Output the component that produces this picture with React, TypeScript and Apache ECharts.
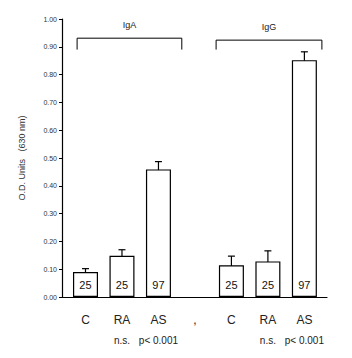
import React, { useEffect, useRef } from "react";
import * as echarts from "echarts";

const categories = ["C", "RA", "AS", ",", "C", "RA", "AS"];
const subLabels = ["", "n.s.", "p< 0.001", "", "", "n.s.", "p< 0.001"];
const barSlots = [0, 1, 2, 4, 5, 6];
const barValues = [0.09, 0.148, 0.459, 0.114, 0.128, 0.852];
const barErrors = [0.012, 0.022, 0.028, 0.033, 0.038, 0.03];
const barCounts = ["25", "25", "97", "25", "25", "97"];
const groupNames = ["IgA", "IgG"];
const groupStart = [-0.23, 3.58];
const groupEnd = [2.64, 6.48];
const groupY = [0.931, 0.924];
const groupDrop = [0.89, 0.89];

export default function App() {
  const ref = useRef<HTMLDivElement>(null);
  useEffect(() => {
    if (!ref.current) return;
    const chart = echarts.init(ref.current, null, { renderer: "svg" });
    const font = "Liberation Sans";
    chart.setOption({
      animation: false,
      textStyle: { fontFamily: font },
      grid: { left: 54, right: 17, top: 11, bottom: 41 },
      xAxis: {
        type: "value",
        min: -0.644,
        max: 6.62,
        axisLine: { show: true, onZero: false, lineStyle: { color: "#000", width: 1.2 } },
        axisTick: { show: false },
        splitLine: { show: false },
        axisLabel: {
          customValues: [0, 1, 2, 3, 4, 5, 6],
          margin: 13,
          fontSize: 12,
          lineHeight: 20,
          color: "#222",
          fontFamily: font,
          formatter: (v: number) => {
            const i = Math.round(v);
            const s = subLabels[i];
            return s ? categories[i] + "\n{s|" + s + "}" : categories[i];
          },
          rich: { s: { fontSize: 10, color: "#222", fontFamily: font, lineHeight: 20 } },
        },
      },
      yAxis: {
        type: "value",
        min: 0,
        max: 1,
        interval: 0.1,
        name: "O.D. Units   (630 nm)",
        nameLocation: "middle",
        nameRotate: 90,
        nameGap: 36,
        nameTextStyle: { fontSize: 9, color: "#333", fontFamily: font },
        axisLine: { show: true, onZero: false, lineStyle: { color: "#000", width: 1.2 } },
        axisTick: { show: true, length: 3, lineStyle: { color: "#000" } },
        splitLine: { show: false },
        axisLabel: {
          fontSize: 7,
          color: "#333",
          margin: 5,
          formatter: (v: number) => v.toFixed(2),
        },
      },
      series: [
        {
          type: "bar",
          barWidth: 25,
          data: barSlots.map((s, i) => [s, barValues[i]]),
          itemStyle: { color: "#fff", borderColor: "#000", borderWidth: 1.2 },
          label: {
            show: true,
            position: "insideBottom",
            distance: 7,
            fontSize: 11,
            color: "#111",
            fontFamily: font,
            formatter: (p: any) => barCounts[p.dataIndex],
          },
        },
        {
          type: "custom",
          clip: false,
          data: barSlots.map((s, i) => [s, barValues[i], barErrors[i]]),
          renderItem: (params: any, api: any) => {
            const x = api.value(0);
            const m = api.value(1);
            const e = api.value(2);
            const top = api.coord([x, m + e]);
            const bot = api.coord([x, m - e]);
            const cw = 3.5;
            const st = { stroke: "#000", lineWidth: 1.2 };
            return {
              type: "group",
              children: [
                { type: "line", shape: { x1: top[0], y1: top[1], x2: bot[0], y2: bot[1] }, style: st },
                { type: "line", shape: { x1: top[0] - cw, y1: top[1], x2: top[0] + cw, y2: top[1] }, style: st },
                { type: "line", shape: { x1: bot[0] - cw, y1: bot[1], x2: bot[0] + cw, y2: bot[1] }, style: st },
              ],
            };
          },
        },
        {
          type: "custom",
          clip: false,
          data: groupNames.map((n, i) => [groupStart[i], groupEnd[i], groupY[i], groupDrop[i]]),
          renderItem: (params: any, api: any) => {
            const i = params.dataIndex;
            const a = api.coord([api.value(0), api.value(2)]);
            const b = api.coord([api.value(1), api.value(2)]);
            const a2 = api.coord([api.value(0), api.value(3)]);
            const b2 = api.coord([api.value(1), api.value(3)]);
            return {
              type: "group",
              children: [
                {
                  type: "polyline",
                  shape: { points: [[a2[0], a2[1]], [a[0], a[1]], [b[0], b[1]], [b2[0], b2[1]]] },
                  style: { stroke: "#000", lineWidth: 1, fill: null },
                },
                {
                  type: "text",
                  x: (a[0] + b[0]) / 2,
                  y: a[1] - 9,
                  style: {
                    text: groupNames[i],
                    fontSize: 9,
                    fontFamily: font,
                    fill: "#222",
                    align: "center",
                    verticalAlign: "bottom",
                  },
                },
              ],
            };
          },
        },
      ],
    });
    return () => chart.dispose();
  }, []);
  return <div ref={ref} style={{ width: 336, height: 342 }} />;
}
